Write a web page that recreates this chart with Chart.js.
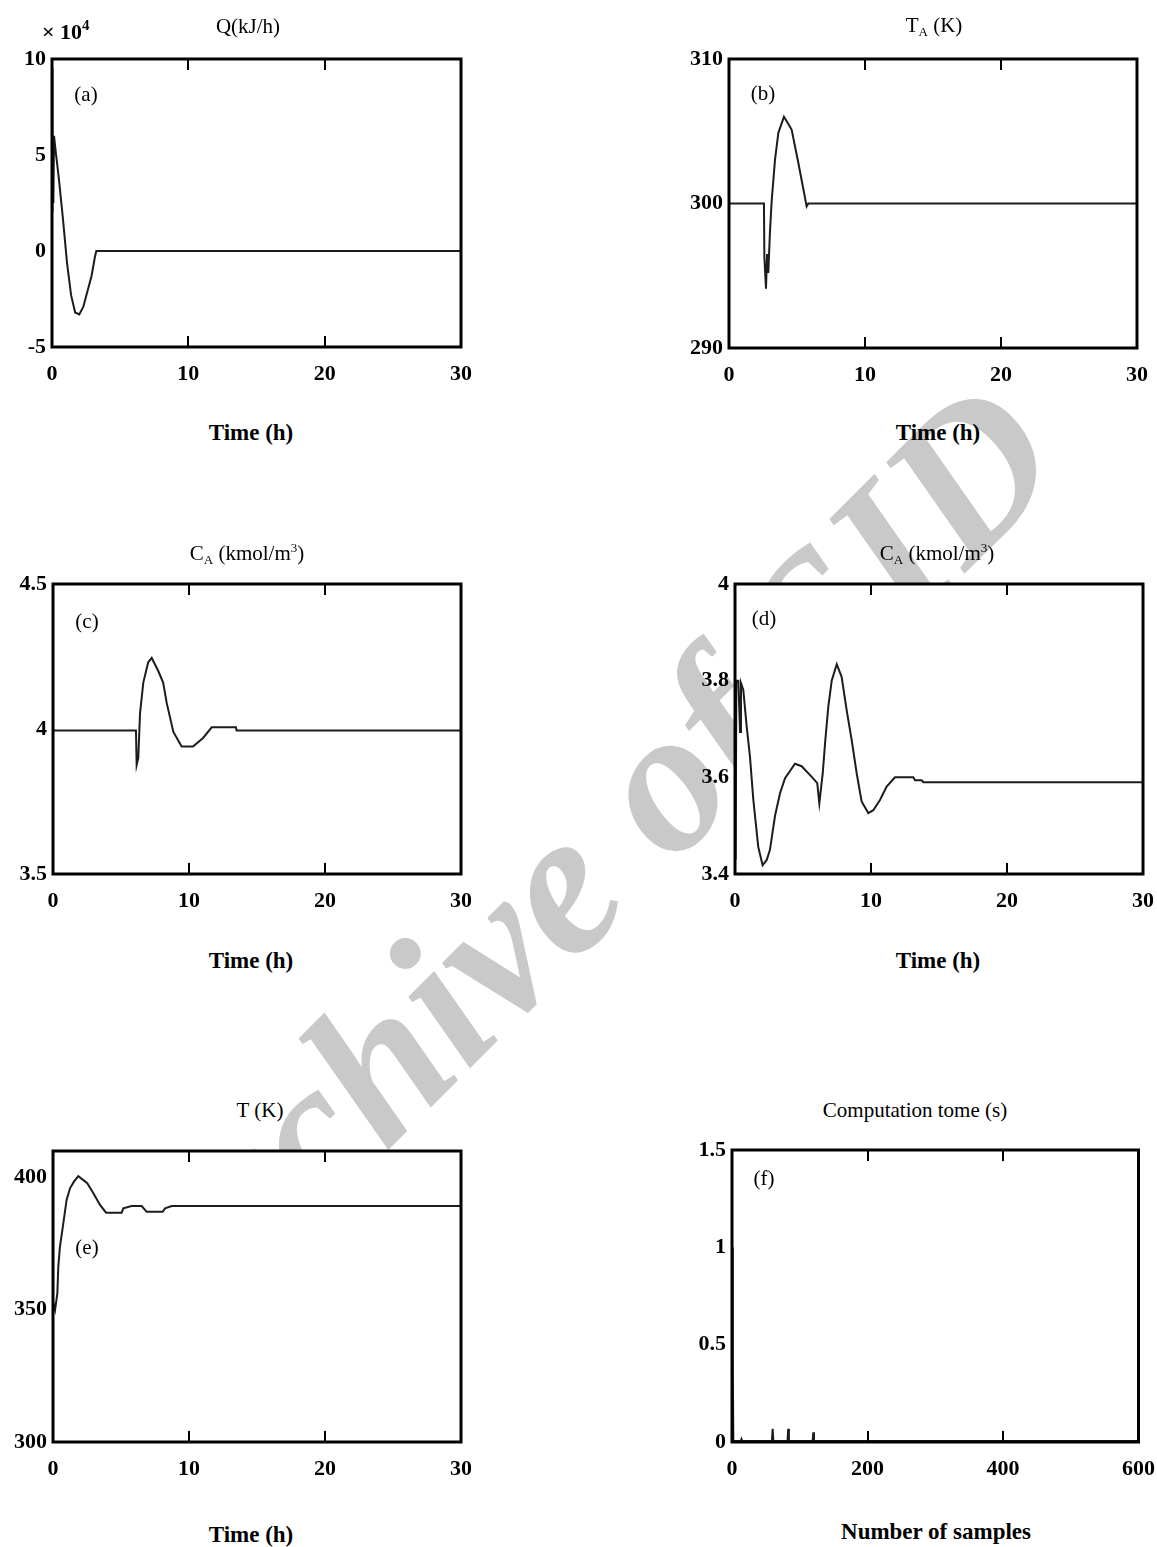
<!DOCTYPE html>
<html><head><meta charset="utf-8">
<script src="https://cdn.jsdelivr.net/npm/chart.js@4.4.1/dist/chart.umd.min.js"></script>
<style>
html,body{margin:0;padding:0;background:#fff;}
body{width:1157px;height:1547px;position:relative;overflow:hidden;font-family:'Liberation Serif','Times New Roman',serif;color:#000;}
canvas{position:absolute;z-index:2;}
.t{position:absolute;z-index:3;white-space:nowrap;transform:translate(-50%,-50%);line-height:1;}
.title{font-size:21px;}
.lab{font-size:21px;}
.xl{font-size:23px;font-weight:bold;}
.sub{font-size:13px;position:relative;top:4px;}
.sup{font-size:13px;position:relative;top:-8px;}
.wm{position:absolute;z-index:1;white-space:nowrap;left:570px;top:870px;transform:translate(-50%,-50%) rotate(-45deg);font-size:205px;font-weight:bold;font-style:italic;color:#c9c9c9;line-height:1;}
</style>
</head><body>
<div class="wm">Archive of SID</div>
<script>
// ---------- data ----------
const xTicksTime = [0, 10, 20, 30];
const xTicksSamples = [0, 200, 400, 600];

// (a) Q (x10^4 kJ/h)
const timeQ = [0, 0.02, 0.05, 0.1, 0.15, 0.3, 0.5, 0.8, 1.1, 1.4, 1.7, 2.0, 2.3, 2.6, 2.9, 3.15, 3.25, 30];
const valQ  = [9.5, 2, 6, 2.5, 6, 5, 3.8, 1.7, -0.6, -2.3, -3.2, -3.3, -2.9, -2.1, -1.3, -0.3, 0, 0];
const yTicksA = [-5, 0, 5, 10];

// (b) TA (K)
const timeTA = [0, 2.57, 2.6, 2.72, 2.8, 2.89, 3.01, 3.14, 3.38, 3.63, 4.04, 4.3, 4.61, 5.1, 5.71, 5.83, 30];
const valTA  = [300, 300, 296.3, 294.1, 296.5, 295.2, 298, 300.2, 303, 304.9, 306, 305.6, 305.1, 302.8, 299.8, 300, 300];
const yTicksB = [290, 300, 310];

// (c) CA (kmol/m3)
const timeC = [0, 6.1, 6.15, 6.27, 6.4, 6.64, 7.0, 7.26, 7.74, 8.1, 8.36, 8.85, 9.46, 10.3, 11.05, 11.67, 13.45, 13.5, 30];
const valC  = [3.995, 3.995, 3.876, 3.90, 4.055, 4.16, 4.23, 4.245, 4.20, 4.16, 4.09, 3.99, 3.94, 3.94, 3.97, 4.006, 4.006, 3.995, 3.995];
const yTicksC = [3.5, 4, 4.5];

// (d) CA (kmol/m3)
const timeD = [0, 0.03, 0.06, 0.1, 0.25, 0.37, 0.44, 0.61, 0.86, 1.1, 1.35, 1.71, 2.03, 2.33, 2.57, 2.94, 3.31, 3.68, 4.41, 4.9, 5.64, 6.05, 6.2, 6.45, 6.62, 6.86, 7.11, 7.48, 7.84, 8.21, 8.58, 8.95, 9.31, 9.8, 10.17, 10.66, 11.15, 11.76, 13.11, 13.24, 13.73, 13.85, 30];
const valD  = [3.5, 3.8, 3.43, 3.8, 3.8, 3.694, 3.795, 3.781, 3.705, 3.643, 3.553, 3.456, 3.418, 3.429, 3.45, 3.52, 3.567, 3.598, 3.628, 3.623, 3.601, 3.588, 3.546, 3.608, 3.67, 3.746, 3.8, 3.834, 3.808, 3.739, 3.677, 3.608, 3.55, 3.526, 3.532, 3.553, 3.581, 3.6, 3.6, 3.594, 3.594, 3.59, 3.59];
const yTicksD = [3.4, 3.6, 3.8, 4];

// (e) T (K)
const timeT = [0, 0.15, 0.32, 0.39, 0.51, 0.76, 1.0, 1.25, 1.54, 1.86, 2.23, 2.52, 2.97, 3.46, 3.9, 5.05, 5.17, 5.78, 6.52, 6.89, 8.06, 8.24, 8.73, 30];
const valT  = [353, 349.9, 356.2, 366.3, 373.8, 382.7, 391.5, 395.9, 398.4, 400.5, 399, 397.8, 394, 389.6, 386.7, 386.7, 388.3, 389.2, 389.2, 387, 387, 388.3, 389.2, 389.2];
const yTicksE = [300, 350, 400];

// (f) Computation time (s)
const samples  = [0, 1, 2, 13, 14, 15, 59, 60, 61, 82, 83, 84, 119, 120, 121, 600];
const compTime = [1.0, 0.47, 0.005, 0.005, 0.015, 0.005, 0.005, 0.068, 0.005, 0.005, 0.068, 0.005, 0.005, 0.05, 0.005, 0.005];
const yTicksF = [0, 0.5, 1, 1.5];

// ---------- drawing ----------
const FONT = "'Liberation Serif','Times New Roman',serif";
const framePlugin = {
  id: 'frame',
  beforeDraw(chart) {
    const {ctx, chartArea: a} = chart;
    ctx.save();
    ctx.fillStyle = '#fff';
    ctx.fillRect(a.left, a.top, a.right - a.left, a.bottom - a.top);
    ctx.restore();
  },
  afterDraw(chart) {
    const {ctx, chartArea: a} = chart;
    const xs = chart.scales.x;
    ctx.save();
    ctx.strokeStyle = '#000';
    ctx.lineWidth = 3;
    ctx.strokeRect(a.left, a.top, a.right - a.left, a.bottom - a.top);
    ctx.lineWidth = 2;
    xs.ticks.forEach(t => {
      if (t.value <= xs.min || t.value >= xs.max) return;
      const px = Math.round(xs.getPixelForValue(t.value));
      ctx.beginPath();
      ctx.moveTo(px, a.top); ctx.lineTo(px, a.top + 11);
      ctx.moveTo(px, a.bottom); ctx.lineTo(px, a.bottom - 11);
      ctx.stroke();
    });
    ctx.restore();
  }
};

function makeChart(rect, xs, ys, xMin, xMax, yMin, yMax, xTicks, yTicks) {
  const [L, T, R, B] = rect;
  const padL = 70, padT = 22, padR = 28, padB = 48;
  const cv = document.createElement('canvas');
  const w = R - L + padL + padR, h = B - T + padT + padB;
  cv.width = w; cv.height = h;
  cv.style.left = (L - padL) + 'px'; cv.style.top = (T - padT) + 'px';
  cv.style.width = w + 'px'; cv.style.height = h + 'px';
  document.body.appendChild(cv);
  const tickFont = {family: FONT, size: 22, weight: 'bold'};
  new Chart(cv, {
    type: 'line',
    data: {datasets: [{
      data: xs.map((x, i) => ({x: x, y: ys[i]})),
      borderColor: '#1c1c1c', borderWidth: 2, pointRadius: 0, tension: 0, fill: false
    }]},
    options: {
      responsive: false, animation: false, devicePixelRatio: 1,
      layout: {padding: {left: 0, top: padT, right: padR, bottom: 0}},
      plugins: {legend: {display: false}, tooltip: {enabled: false}, title: {display: false}},
      scales: {
        x: {
          type: 'linear', min: xMin, max: xMax,
          afterFit: s => { s.height = padB; },
          afterBuildTicks: s => { s.ticks = xTicks.map(v => ({value: v})); },
          grid: {display: false, drawTicks: false}, border: {display: false},
          ticks: {padding: 14, color: '#000', font: tickFont, callback: v => String(v), maxRotation: 0, autoSkip: false}
        },
        y: {
          type: 'linear', min: yMin, max: yMax,
          afterFit: s => { s.width = padL; },
          afterBuildTicks: s => { s.ticks = yTicks.map(v => ({value: v})); },
          grid: {display: false, drawTicks: false}, border: {display: false},
          ticks: {padding: 6, color: '#000', font: tickFont, callback: v => String(v), autoSkip: false}
        }
      }
    },
    plugins: [framePlugin]
  });
}

makeChart([52, 59, 461, 347], timeQ, valQ, 0, 30, -5, 10, xTicksTime, yTicksA);
makeChart([729, 59, 1137, 348], timeTA, valTA, 0, 30, 290, 310, xTicksTime, yTicksB);
makeChart([53, 584, 461, 874], timeC, valC, 0, 30, 3.5, 4.5, xTicksTime, yTicksC);
makeChart([735, 584, 1143, 874], timeD, valD, 0, 30, 3.4, 4, xTicksTime, yTicksD);
makeChart([53, 1151, 461, 1442], timeT, valT, 0, 30, 300, 410, xTicksTime, yTicksE);
makeChart([732, 1150, 1141, 1442], samples, compTime, 0, 600, 0, 1.5, xTicksSamples, yTicksF);
</script>

<div class="t" style="left:42px;top:32px;transform:translate(0,-50%);font-size:22px;font-weight:bold;">× 10<span class="sup" style="font-size:15px;top:-9px;">4</span></div>
<div class="t title" style="left:248px;top:26px;">Q(kJ/h)</div>
<div class="t title" style="left:934px;top:25px;">T<span class="sub">A</span> (K)</div>
<div class="t title" style="left:247px;top:553px;">C<span class="sub">A</span> (kmol/m<span class="sup">3</span>)</div>
<div class="t title" style="left:937px;top:553px;">C<span class="sub">A</span> (kmol/m<span class="sup">3</span>)</div>
<div class="t title" style="left:260px;top:1110px;">T (K)</div>
<div class="t title" style="left:915px;top:1110px;">Computation tome (s)</div>

<div class="t lab" style="left:86px;top:94px;">(a)</div>
<div class="t lab" style="left:763px;top:93px;">(b)</div>
<div class="t lab" style="left:87px;top:621px;">(c)</div>
<div class="t lab" style="left:764px;top:618px;">(d)</div>
<div class="t lab" style="left:87px;top:1247px;">(e)</div>
<div class="t lab" style="left:764px;top:1178px;">(f)</div>

<div class="t xl" style="left:251px;top:432px;">Time (h)</div>
<div class="t xl" style="left:938px;top:432px;">Time (h)</div>
<div class="t xl" style="left:251px;top:960px;">Time (h)</div>
<div class="t xl" style="left:938px;top:960px;">Time (h)</div>
<div class="t xl" style="left:251px;top:1534px;">Time (h)</div>
<div class="t xl" style="left:936px;top:1531px;">Number of samples</div>
</body></html>
